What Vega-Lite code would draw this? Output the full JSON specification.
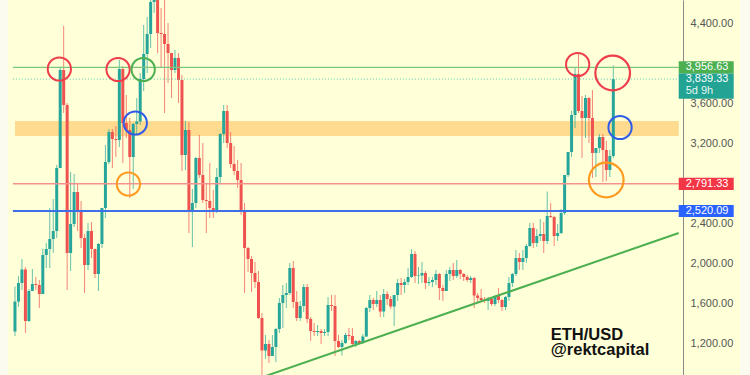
{
  "$schema": "https://vega.github.io/schema/vega-lite/v6.json",
  "width": 732,
  "height": 375,
  "padding": {"left": 8, "right": 10, "top": 0, "bottom": 0},
  "autosize": {"type": "none"},
  "background": "#FBFBEF",
  "config": {"view": {"fill": "#FFFFD8", "stroke": null}, "font": "Liberation Sans"},
  "datasets": {
    "candles": [
      {"w":0,"o":1315,"h":1765,"l":1270,"c":1614},{"w":1,"o":1614,"h":1870,"l":1560,"c":1800},{"w":2,"o":1800,"h":2040,"l":1730,"c":1935},{"w":3,"o":1935,"h":1960,"l":1300,"c":1420},{"w":4,"o":1420,"h":1740,"l":1410,"c":1720},{"w":5,"o":1720,"h":1940,"l":1720,"c":1790},{"w":6,"o":1790,"h":1860,"l":1730,"c":1780},{"w":7,"o":1780,"h":1830,"l":1550,"c":1690},{"w":8,"o":1690,"h":2145,"l":1690,"c":2080},{"w":9,"o":2080,"h":2200,"l":1950,"c":2140},
      {"w":10,"o":2140,"h":2550,"l":1950,"c":2240},{"w":11,"o":2240,"h":2640,"l":2100,"c":2320},{"w":12,"o":2320,"h":2980,"l":2250,"c":2950},{"w":13,"o":2950,"h":3960,"l":2950,"c":3930},{"w":14,"o":3930,"h":4372,"l":3500,"c":3580},{"w":15,"o":3580,"h":3600,"l":1730,"c":2100},{"w":16,"o":2100,"h":2910,"l":1920,"c":2390},{"w":17,"o":2390,"h":2890,"l":2360,"c":2710},{"w":18,"o":2710,"h":2800,"l":2320,"c":2530},{"w":19,"o":2530,"h":2620,"l":2150,"c":2250},
      {"w":20,"o":2250,"h":2290,"l":1700,"c":1980},{"w":21,"o":1980,"h":2400,"l":1930,"c":2320},{"w":22,"o":2320,"h":2410,"l":2050,"c":2140},{"w":23,"o":2140,"h":2140,"l":1850,"c":1890},{"w":24,"o":1890,"h":2200,"l":1720,"c":2190},{"w":25,"o":2190,"h":2550,"l":2150,"c":2550},{"w":26,"o":2550,"h":3180,"l":2450,"c":3010},{"w":27,"o":3010,"h":3340,"l":2990,"c":3310},{"w":28,"o":3310,"h":3340,"l":2950,"c":3240},{"w":29,"o":3240,"h":3370,"l":3060,"c":3230},
      {"w":30,"o":3230,"h":4030,"l":3160,"c":3940},{"w":31,"o":3940,"h":3970,"l":3000,"c":3400},{"w":32,"o":3400,"h":3680,"l":3250,"c":3330},{"w":33,"o":3330,"h":3450,"l":2650,"c":3060},{"w":34,"o":3060,"h":3400,"l":2740,"c":3390},{"w":35,"o":3390,"h":3650,"l":3280,"c":3415},{"w":36,"o":3415,"h":3900,"l":3380,"c":3840},{"w":37,"o":3840,"h":4380,"l":3720,"c":4090},{"w":38,"o":4090,"h":4460,"l":3900,"c":4290},{"w":39,"o":4290,"h":4660,"l":4150,"c":4610},
      {"w":40,"o":4610,"h":4870,"l":4500,"c":4630},{"w":41,"o":4630,"h":4780,"l":4100,"c":4300},{"w":42,"o":4300,"h":4550,"l":3950,"c":4290},{"w":43,"o":4290,"h":4780,"l":3500,"c":4190},{"w":44,"o":4190,"h":4400,"l":3800,"c":4100},{"w":45,"o":4100,"h":4100,"l":3650,"c":3930},{"w":46,"o":3930,"h":4130,"l":3900,"c":4050},{"w":47,"o":4050,"h":4100,"l":3600,"c":3830},{"w":48,"o":3830,"h":3880,"l":2920,"c":3080},{"w":49,"o":3080,"h":3420,"l":2930,"c":3330},
      {"w":50,"o":3330,"h":3410,"l":2300,"c":2530},{"w":51,"o":2530,"h":2740,"l":2160,"c":2600},{"w":52,"o":2600,"h":3060,"l":2550,"c":3050},{"w":53,"o":3050,"h":3280,"l":2850,"c":2880},{"w":54,"o":2880,"h":3200,"l":2600,"c":2630},{"w":55,"o":2630,"h":2800,"l":2300,"c":2620},{"w":56,"o":2620,"h":3000,"l":2450,"c":2550},{"w":57,"o":2550,"h":2730,"l":2450,"c":2520},{"w":58,"o":2520,"h":2950,"l":2500,"c":2860},{"w":59,"o":2860,"h":3300,"l":2800,"c":3290},
      {"w":60,"o":3290,"h":3580,"l":3200,"c":3520},{"w":61,"o":3520,"h":3580,"l":3150,"c":3200},{"w":62,"o":3200,"h":3310,"l":2950,"c":2990},{"w":63,"o":2990,"h":3170,"l":2880,"c":2920},{"w":64,"o":2920,"h":3030,"l":2750,"c":2830},{"w":65,"o":2830,"h":3000,"l":2480,"c":2520},{"w":66,"o":2520,"h":2600,"l":1700,"c":2150},{"w":67,"o":2150,"h":2160,"l":1910,"c":2040},{"w":68,"o":2040,"h":2070,"l":1710,"c":1900},{"w":69,"o":1900,"h":2010,"l":1750,"c":1810},
      {"w":70,"o":1810,"h":1920,"l":1440,"c":1450},{"w":71,"o":1450,"h":1500,"l":880,"c":1125},{"w":72,"o":1125,"h":1280,"l":1040,"c":1190},{"w":73,"o":1190,"h":1230,"l":1000,"c":1070},{"w":74,"o":1070,"h":1280,"l":1070,"c":1160},{"w":75,"o":1160,"h":1350,"l":1010,"c":1340},{"w":76,"o":1340,"h":1650,"l":1300,"c":1600},{"w":77,"o":1600,"h":1780,"l":1350,"c":1680},{"w":78,"o":1680,"h":1800,"l":1550,"c":1700},{"w":79,"o":1700,"h":2000,"l":1680,"c":1950},
      {"w":80,"o":1950,"h":2020,"l":1550,"c":1610},{"w":81,"o":1610,"h":1720,"l":1420,"c":1450},{"w":82,"o":1450,"h":1620,"l":1420,"c":1570},{"w":83,"o":1570,"h":1790,"l":1510,"c":1760},{"w":84,"o":1760,"h":1790,"l":1400,"c":1440},{"w":85,"o":1440,"h":1460,"l":1220,"c":1320},{"w":86,"o":1320,"h":1400,"l":1270,"c":1310},{"w":87,"o":1310,"h":1380,"l":1270,"c":1320},{"w":88,"o":1320,"h":1340,"l":1190,"c":1300},{"w":89,"o":1300,"h":1340,"l":1270,"c":1310},
      {"w":90,"o":1310,"h":1660,"l":1270,"c":1580},{"w":91,"o":1580,"h":1680,"l":1520,"c":1570},{"w":92,"o":1570,"h":1680,"l":1070,"c":1220},{"w":93,"o":1220,"h":1280,"l":1150,"c":1160},{"w":94,"o":1160,"h":1230,"l":1075,"c":1200},{"w":95,"o":1200,"h":1300,"l":1190,"c":1280},{"w":96,"o":1280,"h":1350,"l":1230,"c":1270},{"w":97,"o":1270,"h":1350,"l":1160,"c":1190},{"w":98,"o":1190,"h":1230,"l":1160,"c":1220},{"w":99,"o":1220,"h":1230,"l":1190,"c":1200},
      {"w":100,"o":1200,"h":1290,"l":1190,"c":1265},{"w":101,"o":1265,"h":1560,"l":1260,"c":1550},{"w":102,"o":1550,"h":1680,"l":1510,"c":1630},{"w":103,"o":1630,"h":1650,"l":1530,"c":1590},{"w":104,"o":1590,"h":1720,"l":1560,"c":1630},{"w":105,"o":1630,"h":1680,"l":1460,"c":1515},{"w":106,"o":1515,"h":1740,"l":1460,"c":1690},{"w":107,"o":1690,"h":1720,"l":1580,"c":1640},{"w":108,"o":1640,"h":1670,"l":1540,"c":1565},{"w":109,"o":1565,"h":1600,"l":1370,"c":1680},
      {"w":110,"o":1680,"h":1840,"l":1620,"c":1800},{"w":111,"o":1800,"h":1850,"l":1680,"c":1780},{"w":112,"o":1780,"h":1840,"l":1700,"c":1810},{"w":113,"o":1810,"h":1950,"l":1780,"c":1860},{"w":114,"o":1860,"h":2140,"l":1850,"c":2090},{"w":115,"o":2090,"h":2120,"l":1800,"c":1870},{"w":116,"o":1870,"h":1960,"l":1790,"c":1875},{"w":117,"o":1875,"h":2010,"l":1800,"c":1900},{"w":118,"o":1900,"h":1920,"l":1740,"c":1800},{"w":119,"o":1800,"h":1860,"l":1770,"c":1810},
      {"w":120,"o":1810,"h":1860,"l":1760,"c":1830},{"w":121,"o":1830,"h":1930,"l":1780,"c":1890},{"w":122,"o":1890,"h":1900,"l":1630,"c":1750},{"w":123,"o":1750,"h":1780,"l":1620,"c":1720},{"w":124,"o":1720,"h":1930,"l":1720,"c":1890},{"w":125,"o":1890,"h":1960,"l":1820,"c":1930},{"w":126,"o":1930,"h":2000,"l":1830,"c":1870},{"w":127,"o":1870,"h":2030,"l":1850,"c":1930},{"w":128,"o":1930,"h":1940,"l":1840,"c":1890},{"w":129,"o":1890,"h":1900,"l":1820,"c":1860},
      {"w":130,"o":1860,"h":1880,"l":1810,"c":1830},{"w":131,"o":1830,"h":1870,"l":1800,"c":1850},{"w":132,"o":1850,"h":1860,"l":1550,"c":1675},{"w":133,"o":1675,"h":1700,"l":1610,"c":1650},{"w":134,"o":1650,"h":1740,"l":1620,"c":1630},{"w":135,"o":1630,"h":1660,"l":1600,"c":1620},{"w":136,"o":1620,"h":1660,"l":1530,"c":1640},{"w":137,"o":1640,"h":1660,"l":1570,"c":1590},{"w":138,"o":1590,"h":1680,"l":1570,"c":1670},{"w":139,"o":1670,"h":1750,"l":1600,"c":1630},
      {"w":140,"o":1630,"h":1640,"l":1520,"c":1560},{"w":141,"o":1560,"h":1670,"l":1530,"c":1660},{"w":142,"o":1660,"h":1860,"l":1620,"c":1800},{"w":143,"o":1800,"h":1900,"l":1760,"c":1890},{"w":144,"o":1890,"h":2130,"l":1870,"c":2050},{"w":145,"o":2050,"h":2100,"l":1930,"c":2010},{"w":146,"o":2010,"h":2130,"l":1930,"c":2050},{"w":147,"o":2050,"h":2190,"l":2000,"c":2170},{"w":148,"o":2170,"h":2400,"l":2160,"c":2350},{"w":149,"o":2350,"h":2400,"l":2150,"c":2200},
      {"w":150,"o":2200,"h":2340,"l":2160,"c":2270},{"w":151,"o":2270,"h":2440,"l":2220,"c":2290},{"w":152,"o":2290,"h":2410,"l":2100,"c":2220},{"w":153,"o":2220,"h":2715,"l":2190,"c":2470},{"w":154,"o":2470,"h":2600,"l":2450,"c":2460},{"w":155,"o":2460,"h":2470,"l":2170,"c":2270},{"w":156,"o":2270,"h":2390,"l":2220,"c":2300},{"w":157,"o":2300,"h":2540,"l":2290,"c":2500},{"w":158,"o":2500,"h":2880,"l":2480,"c":2880},{"w":159,"o":2880,"h":3110,"l":2860,"c":3110},
      {"w":160,"o":3110,"h":3520,"l":3060,"c":3480},{"w":161,"o":3480,"h":3950,"l":3350,"c":3890},{"w":162,"o":3890,"h":4093,"l":3500,"c":3520},{"w":163,"o":3520,"h":3670,"l":3050,"c":3450},{"w":164,"o":3450,"h":3680,"l":3250,"c":3650},{"w":165,"o":3650,"h":3660,"l":3200,"c":3450},{"w":166,"o":3450,"h":3730,"l":2850,"c":3100},{"w":167,"o":3100,"h":3130,"l":2860,"c":3150},{"w":168,"o":3150,"h":3290,"l":3100,"c":3260},{"w":169,"o":3260,"h":3290,"l":2810,"c":3130},
      {"w":170,"o":3130,"h":3220,"l":2820,"c":2930},{"w":171,"o":2930,"h":3130,"l":2860,"c":3070},{"w":172,"o":3070,"h":3975,"l":3050,"c":3839.33}
    ],
    "levels": [
      {"name": "resistance", "v": 3956.63},
      {"name": "last", "v": 3839.33, "sub": "5d 9h"},
      {"name": "support", "v": 2791.33},
      {"name": "floor", "v": 2520.09}
    ],
    "band": [{"lo": 3270, "hi": 3420}],
    "trend": [{"w": 70, "v": 845}, {"w": 190.8, "v": 2300}],
    "circles": [
      {"w": 12.76, "v": 3940, "kind": "top"},
      {"w": 29.63, "v": 3935, "kind": "top"},
      {"w": 36.86, "v": 3935, "kind": "breakout"},
      {"w": 34.59, "v": 3400, "kind": "retest"},
      {"w": 32.61, "v": 2790, "kind": "support"},
      {"w": 161.75, "v": 3985, "kind": "top"},
      {"w": 173.94, "v": 3355, "kind": "retest"}
    ],
    "circlesLarge": [
      {"w": 171.82, "v": 3900, "kind": "top"},
      {"w": 169.97, "v": 2830, "kind": "support"}
    ],
    "caption": [{"t": "ETH/USD\n@rektcapital"}]
  },
  "layer": [
    {
      "data": {"name": "band"},
      "mark": {"type": "rect", "color": "#FFDB8F"},
      "encoding": {
        "x": {"datum": 0, "type": "quantitative", "scale": {"domain": [-0.567, 206.98], "nice": false, "zero": false}, "axis": null},
        "x2": {"datum": 190.8},
        "y": {
          "field": "lo", "type": "quantitative",
          "scale": {"domain": [880, 4630], "nice": false, "zero": false},
          "axis": {
            "orient": "right", "offset": -57, "title": null,
            "values": [1200, 1600, 2000, 2400, 3200, 3600, 4400],
            "format": ",.2f", "ticks": false, "labelPadding": 7, "grid": false,
            "labelFont": "Liberation Sans", "labelFontSize": 11, "labelColor": "#555555",
            "labelOverlap": false, "labelBaseline": "middle",
            "domainColor": "#8A8A8A", "domainWidth": 1
          }
        },
        "y2": {"field": "hi"}
      }
    },
    {
      "data": {"name": "candles"},
      "mark": {"type": "rule", "strokeWidth": 1, "opacity": 0.7, "clip": true},
      "encoding": {
        "x": {"field": "w", "type": "quantitative", "axis": null},
        "y": {"field": "l", "type": "quantitative", "axis": {"title": null}},
        "y2": {"field": "h"},
        "color": {"condition": {"test": "datum.c >= datum.o", "value": "#26A69A"}, "value": "#EF5350"}
      }
    },
    {
      "data": {"name": "candles"},
      "mark": {"type": "bar", "size": 3, "clip": true},
      "encoding": {
        "x": {"field": "w", "type": "quantitative", "axis": null},
        "y": {"field": "o", "type": "quantitative", "axis": {"title": null}},
        "y2": {"field": "c"},
        "color": {"condition": {"test": "datum.c >= datum.o", "value": "#26A69A"}, "value": "#EF5350"}
      }
    },
    {
      "data": {"name": "levels"},
      "transform": [{"filter": "datum.name == 'resistance'"}],
      "mark": {"type": "rule", "color": "#7DC77D", "strokeWidth": 1.2},
      "encoding": {"x": {"datum": -0.6, "type": "quantitative", "axis": null}, "x2": {"datum": 190.8}, "y": {"field": "v", "type": "quantitative", "axis": {"title": null}}}
    },
    {
      "data": {"name": "levels"},
      "transform": [{"filter": "datum.name == 'last'"}],
      "mark": {"type": "rule", "color": "#5CC9B5", "strokeWidth": 1, "strokeDash": [1, 2]},
      "encoding": {"x": {"datum": -0.6, "type": "quantitative", "axis": null}, "x2": {"datum": 190.8}, "y": {"field": "v", "type": "quantitative", "axis": {"title": null}}}
    },
    {
      "data": {"name": "levels"},
      "transform": [{"filter": "datum.name == 'support'"}],
      "mark": {"type": "rule", "color": "#F5928F", "strokeWidth": 1.5},
      "encoding": {"x": {"datum": -0.6, "type": "quantitative", "axis": null}, "x2": {"datum": 190.8}, "y": {"field": "v", "type": "quantitative", "axis": {"title": null}}}
    },
    {
      "data": {"name": "levels"},
      "transform": [{"filter": "datum.name == 'floor'"}],
      "mark": {"type": "rule", "color": "#3F6FE8", "strokeWidth": 2},
      "encoding": {"x": {"datum": -0.6, "type": "quantitative", "axis": null}, "x2": {"datum": 190.8}, "y": {"field": "v", "type": "quantitative", "axis": {"title": null}}}
    },
    {
      "data": {"name": "trend"},
      "mark": {"type": "line", "color": "#4CAF50", "strokeWidth": 2, "clip": true},
      "encoding": {
        "x": {"field": "w", "type": "quantitative", "axis": null},
        "y": {"field": "v", "type": "quantitative", "axis": {"title": null}}
      }
    },
    {
      "data": {"name": "circles"},
      "mark": {"type": "point", "shape": "circle", "filled": false, "size": 540, "strokeWidth": 2, "opacity": 1},
      "encoding": {
        "x": {"field": "w", "type": "quantitative", "axis": null},
        "y": {"field": "v", "type": "quantitative", "axis": {"title": null}},
        "color": {"field": "kind", "type": "nominal", "legend": null,
          "scale": {"domain": ["top", "breakout", "retest", "support"], "range": ["#EE3E4B", "#4CAF50", "#2E5CE6", "#FF9A1F"]}}
      }
    },
    {
      "data": {"name": "circlesLarge"},
      "mark": {"type": "point", "shape": "circle", "filled": false, "size": 1200, "strokeWidth": 2.2, "opacity": 1},
      "encoding": {
        "x": {"field": "w", "type": "quantitative", "axis": null},
        "y": {"field": "v", "type": "quantitative", "axis": {"title": null}},
        "color": {"field": "kind", "type": "nominal", "legend": null}
      }
    },
    {
      "data": {"name": "caption"},
      "mark": {"type": "text", "font": "Liberation Sans", "fontSize": 16.5, "fontWeight": "bold", "color": "#111111", "align": "left", "baseline": "alphabetic", "lineBreak": "\n", "lineHeight": 15},
      "encoding": {
        "x": {"datum": 154.0, "type": "quantitative", "axis": null},
        "y": {"datum": 1230, "type": "quantitative", "axis": {"title": null}},
        "text": {"field": "t", "type": "nominal"}
      }
    },
    {
      "data": {"name": "levels"},
      "transform": [{"filter": "datum.name != 'last'"}],
      "mark": {"type": "point", "shape": "M0,-0.22L2,-0.22L2,0.22L0,0.22Z", "size": 3025, "filled": true, "opacity": 1, "strokeWidth": 0},
      "encoding": {
        "x": {"datum": 190.8, "type": "quantitative", "axis": null},
        "y": {"field": "v", "type": "quantitative", "axis": {"title": null}},
        "fill": {"field": "name", "type": "nominal", "legend": null,
          "scale": {"domain": ["resistance", "last", "support", "floor"], "range": ["#4CAF50", "#22A393", "#F23645", "#2962FF"]}}
      }
    },
    {
      "data": {"name": "levels"},
      "transform": [{"filter": "datum.name == 'last'"}],
      "mark": {"type": "point", "shape": "M0,-0.2L2,-0.2L2,0.72L0,0.72Z", "size": 3025, "filled": true, "opacity": 1, "strokeWidth": 0},
      "encoding": {
        "x": {"datum": 190.8, "type": "quantitative", "axis": null},
        "y": {"field": "v", "type": "quantitative", "axis": {"title": null}},
        "fill": {"field": "name", "type": "nominal", "legend": null}
      }
    },
    {
      "data": {"name": "levels"},
      "mark": {"type": "text", "font": "Liberation Sans", "fontSize": 11, "color": "#FFFFFF", "align": "left", "baseline": "middle"},
      "encoding": {
        "x": {"datum": 192.8, "type": "quantitative", "axis": null},
        "y": {"field": "v", "type": "quantitative", "axis": {"title": null}},
        "text": {"field": "v", "type": "quantitative", "format": ",.2f"}
      }
    },
    {
      "data": {"name": "levels"},
      "transform": [{"filter": "datum.sub != null"}],
      "mark": {"type": "text", "font": "Liberation Sans", "fontSize": 11, "color": "#E6F6F3", "align": "left", "baseline": "middle", "dy": 12},
      "encoding": {
        "x": {"datum": 192.8, "type": "quantitative", "axis": null},
        "y": {"field": "v", "type": "quantitative", "axis": {"title": null}},
        "text": {"field": "sub", "type": "nominal"}
      }
    }
  ]
}
